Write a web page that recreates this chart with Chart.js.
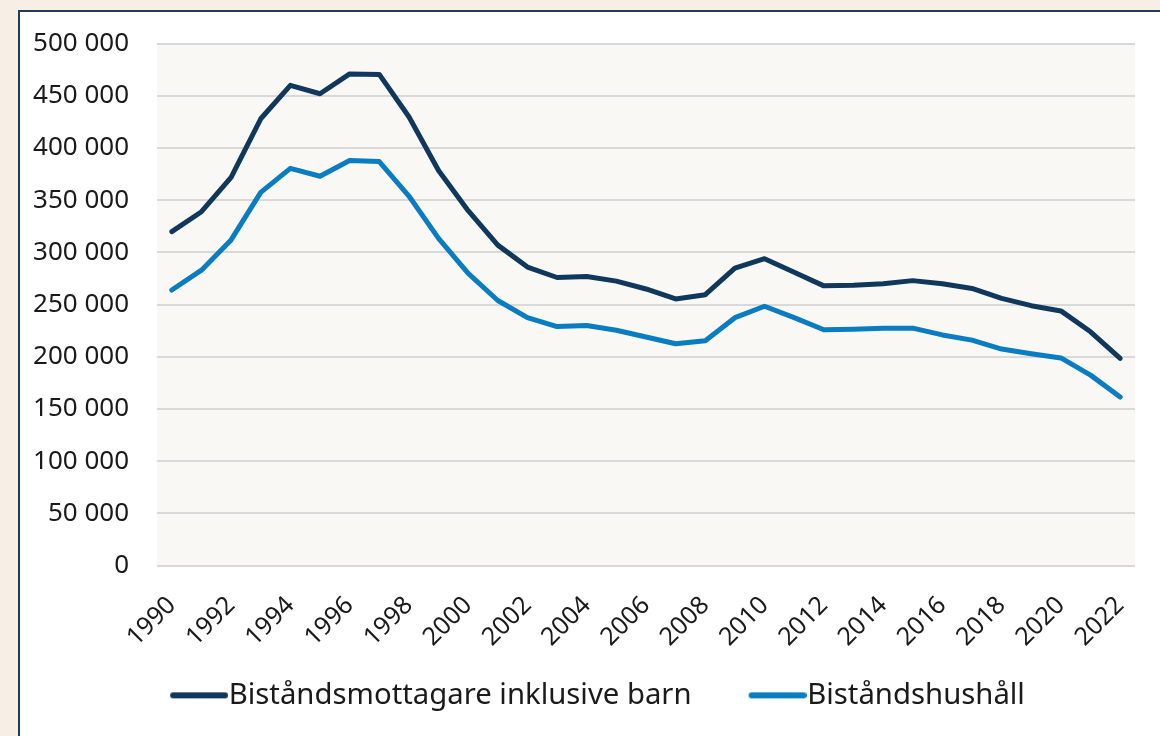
<!DOCTYPE html>
<html>
<head>
<meta charset="utf-8">
<script src="https://cdn.jsdelivr.net/npm/chart.js@4/dist/chart.umd.min.js"></script>
<style>
  html, body { margin: 0; padding: 0; }
  body { width: 1160px; height: 736px; background: #f7efe6; overflow: hidden; position: relative; }
  .panel { position: absolute; left: 18px; top: 10px; width: 1200px; height: 800px; background: #fff; border: 2px solid #1f3d58; box-sizing: border-box; }
  .wrap { position: absolute; left: 20px; top: 0px; width: 1156px; height: 736px; }
</style>
</head>
<body>
<div class="panel"></div>
<div class="wrap"><canvas id="lineChart"></canvas></div>
<script>
const years = [];
for (let y = 1990; y <= 2022; y++) years.push(String(y));

const mottagare = [320000, 339000, 372000, 428000, 460000, 452000, 471000, 470500, 430000, 378500, 340000, 307000,
    286000, 276000, 277000, 272500, 265000, 255500, 259500, 285000, 294000, 281000, 268000, 268500,
    270000, 273000, 270000, 265500, 256000, 249000, 244000, 224000, 198500];
const hushall = [264000, 283000, 312000, 357500, 380500, 373000, 388000, 387000, 354000, 313500, 280000, 254000,
    237500, 229000, 230000, 225500, 219000, 212500, 215500, 237500, 248500, 237500, 226000, 226500,
    227500, 227500, 221000, 216000, 207500, 203000, 199000, 182500, 161500];

const darkBlue = '#10375c';
const lightBlue = '#0a7cc1';

// legend marker: thick round-capped line, pushed right so it sits close to the label
function legendLine(color) {
    const c = document.createElement('canvas');
    c.width = 102;
    c.height = 8;
    const g = c.getContext('2d');
    g.strokeStyle = color;
    g.lineWidth = 6;
    g.lineCap = 'round';
    g.beginPath();
    g.moveTo(47, 4);
    g.lineTo(99, 4);
    g.stroke();
    return c;
}

const plotBg = {
    id: 'plotBg',
    beforeDraw(chart) {
        const { ctx, chartArea } = chart;
        ctx.save();
        ctx.fillStyle = '#f9f8f5';
        ctx.fillRect(chartArea.left, chartArea.top, chartArea.right - chartArea.left, chartArea.bottom - chartArea.top);
        ctx.restore();
    }
};

const fmt = v => String(v).replace(/\B(?=(\d{3})+(?!\d))/g, ' ');

Chart.defaults.font.family = "'Noto Sans', sans-serif";
Chart.defaults.color = '#1a1a1a';

const ctx = document.getElementById('lineChart').getContext('2d');
new Chart(ctx, {
    type: 'line',
    data: {
        labels: years,
        datasets: [
            {
                label: 'Biståndsmottagare inklusive barn',
                data: mottagare,
                borderColor: darkBlue,
                backgroundColor: darkBlue,
                borderWidth: 5,
                borderCapStyle: 'round',
                borderJoinStyle: 'round',
                pointRadius: 0,
                pointStyle: legendLine(darkBlue),
                tension: 0
            },
            {
                label: 'Biståndshushåll',
                data: hushall,
                borderColor: lightBlue,
                backgroundColor: lightBlue,
                borderWidth: 5,
                borderCapStyle: 'round',
                borderJoinStyle: 'round',
                pointRadius: 0,
                pointStyle: legendLine(lightBlue),
                tension: 0
            }
        ]
    },
    options: {
        responsive: true,
        maintainAspectRatio: false,
        animation: false,
        layout: { padding: { left: 10, right: 41, top: 0, bottom: 16 } },
        plugins: {
            legend: {
                display: true,
                position: 'bottom',
                labels: {
                    usePointStyle: true,
                    pointStyleWidth: 74,
                    font: { size: 29.3 },
                    padding: 27
                }
            },
            tooltip: { enabled: false }
        },
        scales: {
            x: {
                offset: true,
                grid: { display: false },
                border: { display: false },
                afterFit: scale => { scale.height = 88; },
                ticks: {
                    autoSkip: false,
                    minRotation: 45,
                    maxRotation: 45,
                    padding: 17,
                    font: { size: 25 },
                    callback: function (val, i) { return i % 2 === 0 ? this.getLabelForValue(val) : ''; }
                }
            },
            y: {
                min: 0,
                max: 500000,
                grid: { color: '#d9d9d9', lineWidth: 2, drawTicks: false },
                border: { display: false },
                afterFit: scale => { scale.width = 127; },
                ticks: {
                    stepSize: 50000,
                    padding: 28,
                    font: { size: 26 },
                    callback: v => fmt(v)
                }
            }
        }
    },
    plugins: [plotBg]
});
</script>
</body>
</html>
